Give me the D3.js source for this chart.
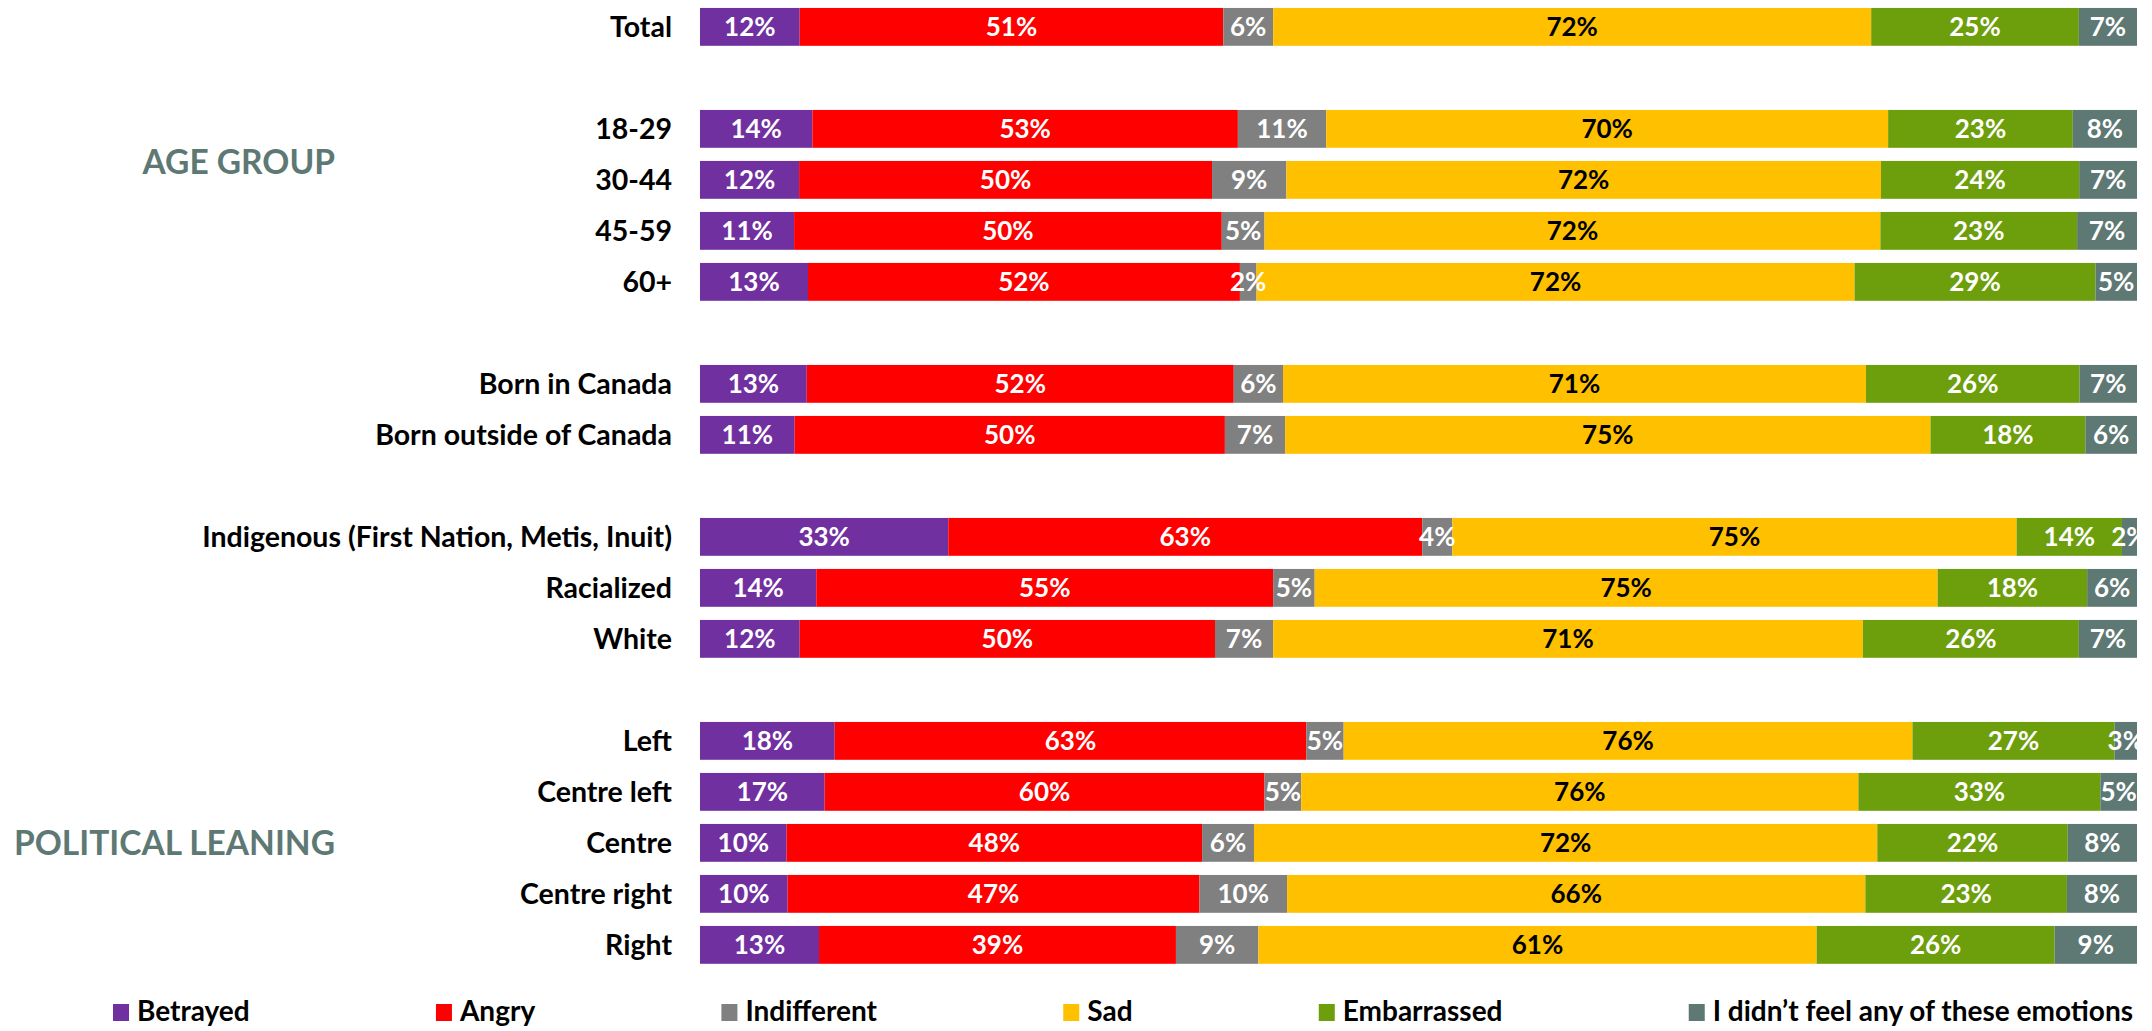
<!DOCTYPE html>
<html lang="en">
<head>
    <meta charset="UTF-8">
    <title>Emotions by group</title>
    <script src="https://d3js.org/d3.v7.min.js"></script>
    <style>
        body { margin: 0; background: #fff; }
        text { font-family: Lato, "Open Sans", sans-serif; font-weight: bold; }
        .row-label { font-size: 28.5px; fill: #000; text-anchor: end; }
        .group-label { font-size: 33.5px; fill: #5e7874; text-anchor: end; }
        .value { font-size: 26px; text-anchor: middle; }
        .legend text { font-size: 28px; fill: #000; }
    </style>
</head>
<body>
    <svg width="2152" height="1031"></svg>

    <script>
        // series (emotions) and colours
        const emotions = ["Betrayed", "Angry", "Indifferent", "Sad", "Embarrassed", "I didn\u2019t feel any of these emotions"];
        const colors = ["#7030a0", "#ff0000", "#808080", "#ffc000", "#6d9e0c", "#5e7874"];
        const textColors = ["#fff", "#fff", "#fff", "#000", "#fff", "#fff"];

        // rows, null = empty spacer slot
        const rows = ["Total", null,
            "18-29", "30-44", "45-59", "60+", null,
            "Born in Canada", "Born outside of Canada", null,
            "Indigenous (First Nation, Metis, Inuit)", "Racialized", "White", null,
            "Left", "Centre left", "Centre", "Centre right", "Right"];

        const values = {
            "Total": [12, 51, 6, 72, 25, 7],
            "18-29": [14, 53, 11, 70, 23, 8],
            "30-44": [12, 50, 9, 72, 24, 7],
            "45-59": [11, 50, 5, 72, 23, 7],
            "60+": [13, 52, 2, 72, 29, 5],
            "Born in Canada": [13, 52, 6, 71, 26, 7],
            "Born outside of Canada": [11, 50, 7, 75, 18, 6],
            "Indigenous (First Nation, Metis, Inuit)": [33, 63, 4, 75, 14, 2],
            "Racialized": [14, 55, 5, 75, 18, 6],
            "White": [12, 50, 7, 71, 26, 7],
            "Left": [18, 63, 5, 76, 27, 3],
            "Centre left": [17, 60, 5, 76, 33, 5],
            "Centre": [10, 48, 6, 72, 22, 8],
            "Centre right": [10, 47, 10, 66, 23, 8],
            "Right": [13, 39, 9, 61, 26, 9]
        };

        // group headings: text + rows they sit beside
        const groups = [
            { name: "AGE GROUP", at: "18-29", offset: 0.65 },
            { name: "POLITICAL LEANING", at: "Centre", offset: 0 }
        ];

        const svg = d3.select("svg");
        const left = 700, right = 2137;

        const y = d3.scaleBand()
            .domain(d3.range(rows.length))
            .range([1.3, 1.3 + 51 * rows.length])
            .paddingInner(0.255)
            .paddingOuter(0.1275);

        svg.append("defs").append("clipPath")
            .attr("id", "plot")
            .append("rect")
            .attr("x", left).attr("y", 0)
            .attr("width", right - left).attr("height", 1031);

        const data = rows.map((r, i) => ({ label: r, i: i })).filter(d => d.label);

        const row = svg.append("g").selectAll("g")
            .data(data)
            .enter().append("g")
            .attr("transform", d => `translate(0,${y(d.i)})`);

        row.append("text")
            .attr("class", "row-label")
            .attr("x", 672)
            .attr("y", y.bandwidth() / 2)
            .attr("dy", "0.36em")
            .text(d => d.label);

        const bars = row.append("g").attr("clip-path", "url(#plot)");

        bars.each(function (d) {
            const vals = values[d.label];
            const x = d3.scaleLinear().domain([0, d3.sum(vals)]).range([left, right]);
            const stacked = [];
            let acc = 0;
            vals.forEach((v, k) => { stacked.push({ k: k, v: v, x0: acc, x1: acc + v }); acc += v; });

            const g = d3.select(this);
            g.selectAll("rect")
                .data(stacked)
                .enter().append("rect")
                .attr("x", s => x(s.x0))
                .attr("width", s => x(s.x1) - x(s.x0))
                .attr("height", y.bandwidth())
                .attr("fill", s => colors[s.k]);

            g.selectAll("text")
                .data(stacked)
                .enter().append("text")
                .attr("class", "value")
                .attr("x", s => (x(s.x0) + x(s.x1)) / 2)
                .attr("y", y.bandwidth() / 2)
                .attr("dy", "0.36em")
                .attr("fill", s => textColors[s.k])
                .text(s => s.v + "%");
        });

        // group headings
        svg.append("g").selectAll("text")
            .data(groups)
            .enter().append("text")
            .attr("class", "group-label")
            .attr("x", 335)
            .attr("y", g => y(rows.indexOf(g.at)) + y.bandwidth() / 2 + g.offset * y.step())
            .attr("dy", "0.36em")
            .text(g => g.name);

        // legend, flowed so that it spans the bar width
        const legend = svg.append("g").attr("class", "legend");
        const items = legend.selectAll("g")
            .data(emotions)
            .enter().append("g");
        items.append("rect")
            .attr("y", 1004)
            .attr("width", 16).attr("height", 17)
            .attr("fill", (d, k) => colors[k]);
        items.append("text")
            .attr("x", 24)
            .attr("y", 1021)
            .text(d => d);

        const widths = items.nodes().map(n => 24 + d3.select(n).select("text").node().getComputedTextLength());
        const start = 113;
        const gap = (right - 4 - start - d3.sum(widths)) / (emotions.length - 1);
        let pos = start;
        items.attr("transform", (d, k) => {
            const t = `translate(${pos},0)`;
            pos += widths[k] + gap;
            return t;
        });
    </script>
</body>
</html>
